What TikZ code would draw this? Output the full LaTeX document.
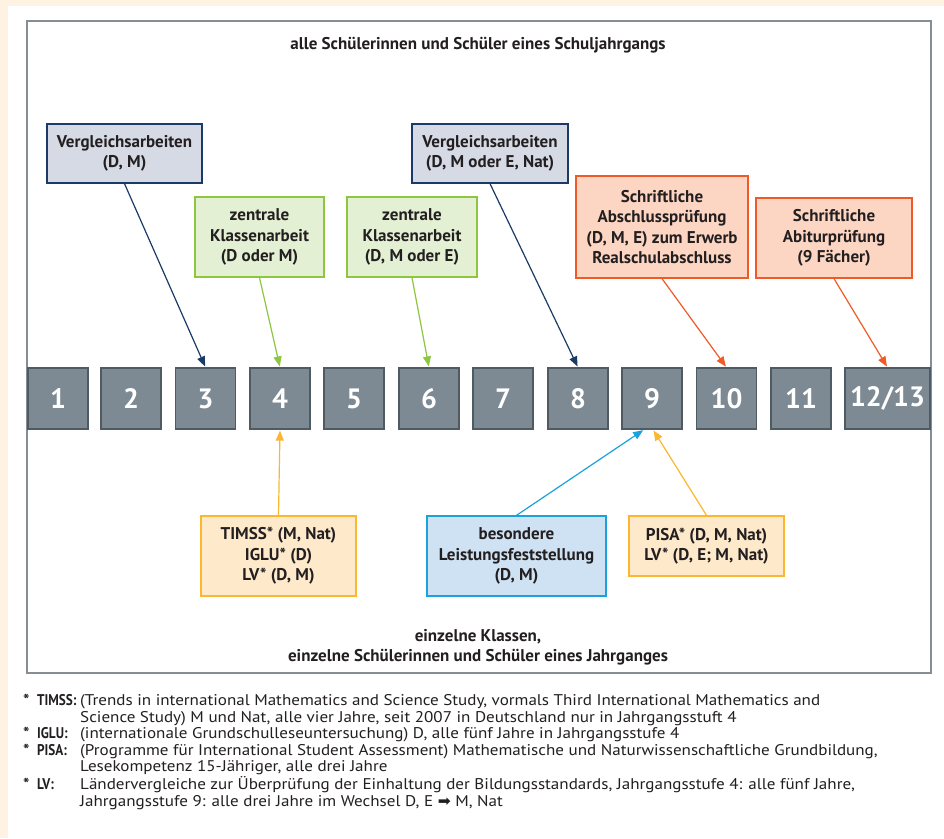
\documentclass[tikz,border=0pt]{standalone}
\usepackage{fontspec}
\setmainfont{PT Sans}
\newfontfamily\notefont[FakeStretch=1.1]{PT Sans}
\newfontfamily\labelfont[FakeStretch=0.85]{PT Sans}
\newfontfamily\symfont{DejaVu Sans}
\usepackage{array}
\usepackage{tikz}
\usetikzlibrary{arrows.meta,positioning,calc}
\definecolor{bgcream}{HTML}{FEF2E2}
\definecolor{framegray}{HTML}{858E94}
\definecolor{gradefill}{HTML}{7D8A93}
\definecolor{gradeline}{HTML}{4F5B63}
\definecolor{textdark}{HTML}{231F20}
\definecolor{navyline}{HTML}{1B3A67}
\definecolor{navyfill}{HTML}{D5DAE5}
\definecolor{greenline}{HTML}{8DC63F}
\definecolor{greenfill}{HTML}{E3F0D3}
\definecolor{redline}{HTML}{F05A28}
\definecolor{redfill}{HTML}{FCD6C2}
\definecolor{yellowline}{HTML}{FBB731}
\definecolor{yellowfill}{HTML}{FEEACB}
\definecolor{blueline}{HTML}{1BA1DC}
\definecolor{bluefill}{HTML}{CFE2F3}

\begin{document}
\begin{tikzpicture}[x=1pt,y=-1pt,
  grade/.style={rectangle,draw=gradeline,fill=gradefill,line width=1.2pt,
    minimum width=60pt,minimum height=61pt,inner sep=0pt,text=white,
    font=\fontsize{28}{28}\selectfont\bfseries},
  info/.style={rectangle,line width=1.3pt,align=center,inner sep=2pt,text=textdark,
    font=\fontsize{17}{20.5}\selectfont\bfseries},
  caption/.style={align=center,text=textdark,font=\fontsize{17}{19.5}\selectfont\bfseries},
  link/.style={-{Triangle[length=10pt,width=8pt]},line width=1.2pt,shorten >=1pt},
]
  % background and frame
  \useasboundingbox (0,0) rectangle (944,838);
  \fill[bgcream] (0,0) rectangle (944,838);
  \fill[white] (8,6) rectangle (944,838);
  \draw[framegray,line width=1.4pt] (27,21) rectangle (931,673);

  \node[caption] (top) at (478,45) {alle Schülerinnen und Schüler eines Schuljahrgangs};
  \node[caption] (bottom) at (478,647) {einzelne Klassen,\\einzelne Schülerinnen und Schüler eines Jahrganges};

  % grades
  \node[grade] (g1) at (58,398.5) {1};
  \node[grade] (g2) at (131,398.5) {2};
  \node[grade] (g3) at (205.5,398.5) {3};
  \node[grade] (g4) at (280,398.5) {4};
  \node[grade] (g5) at (354,398.5) {5};
  \node[grade] (g6) at (429,398.5) {6};
  \node[grade] (g7) at (503,398.5) {7};
  \node[grade] (g8) at (578,398.5) {8};
  \node[grade] (g9) at (652,398.5) {9};
  \node[grade] (g10) at (726.5,398.5) {10};
  \node[grade] (g11) at (801,398.5) {11};
  \node[grade,minimum width=85pt] (g12) at (887.5,398.5) {12/13};

  % tests above
  \node[info,draw=navyline,fill=navyfill,minimum width=155pt,minimum height=59pt] (vgl1) at (124.5,153.5)
    {Vergleichsarbeiten\\(D, M)};
  \node[info,draw=greenline,fill=greenfill,minimum width=129pt,minimum height=80pt] (zka1) at (259.5,237)
    {zentrale\\Klassenarbeit\\(D oder M)};
  \node[info,draw=greenline,fill=greenfill,minimum width=130pt,minimum height=80pt] (zka2) at (412,237)
    {zentrale\\Klassenarbeit\\(D, M oder E)};
  \node[info,draw=navyline,fill=navyfill,minimum width=156pt,minimum height=59pt] (vgl2) at (490,153.5)
    {Vergleichsarbeiten\\(D, M oder E, Nat)};
  \node[info,draw=redline,fill=redfill,minimum width=172pt,minimum height=102pt] (abs) at (662,227)
    {Schriftliche\\Abschlussprüfung\\(D, M, E) zum Erwerb\\Realschulabschluss};
  \node[info,draw=redline,fill=redfill,minimum width=156pt,minimum height=80pt] (abi) at (834,238)
    {Schriftliche\\Abiturprüfung\\(9 Fächer)};

  % tests below
  \node[info,draw=yellowline,fill=yellowfill,minimum width=155pt,minimum height=80pt] (timss) at (278.5,556)
    {TIMSS* (M, Nat)\\IGLU* (D)\\LV* (D, M)};
  \node[info,draw=blueline,fill=bluefill,minimum width=179pt,minimum height=80pt] (blf) at (516.5,556)
    {besondere\\Leistungsfeststellung\\(D, M)};
  \node[info,draw=yellowline,fill=yellowfill,minimum width=155pt,minimum height=60pt] (pisa) at (706.5,546)
    {PISA* (D, M, Nat)\\LV* (D, E; M, Nat)};

  % connectors
  \draw[link,navyline] (vgl1.south) -- (g3.north);
  \draw[link,greenline] (zka1.south) -- (g4.north);
  \draw[link,greenline] (zka2.south) -- (g6.north);
  \draw[link,navyline] (vgl2.south) -- (g8.north);
  \draw[link,redline] (abs.south) -- (g10.north);
  \draw[link,redline] (abi.south) -- (g12.north);
  \draw[link,yellowline] (timss.north) -- (g4.south);
  \draw[link,blueline] (blf.north) -- ([xshift=-8pt]g9.south);
  \draw[link,yellowline] (pisa.north) -- ([xshift=1pt]g9.south);

  % footnotes
  \node[anchor=north west,inner sep=0pt,text=textdark,font=\notefont\fontsize{15.5}{16.5}\selectfont] (notes) at (23,694)
    {\begin{tabular}{@{}>{\bfseries}p{14pt}@{}>{\labelfont\bfseries}p{43pt}@{}>{\raggedright\arraybackslash}p{860pt}@{}}
      {*} & TIMSS: & (Trends in international Mathematics and Science Study, vormals Third International Mathematics and\newline
        Science Study) M und Nat, alle vier Jahre, seit 2007 in Deutschland nur in Jahrgangsstuft 4\\
      {*} & IGLU: & (internationale Grundschulleseuntersuchung) D, alle fünf Jahre in Jahrgangsstufe 4\\
      {*} & PISA: & (Programme für International Student Assessment) Mathematische und Naturwissenschaftliche Grundbildung,\newline
        Lesekompetenz 15-Jähriger, alle drei Jahre\\
      {*} & LV: & Ländervergleiche zur Überprüfung der Einhaltung der Bildungsstandards, Jahrgangsstufe 4: alle fünf Jahre,\newline
        Jahrgangsstufe 9: alle drei Jahre im Wechsel D, E {\symfont ➡} M, Nat\\
    \end{tabular}};
\end{tikzpicture}
\end{document}
